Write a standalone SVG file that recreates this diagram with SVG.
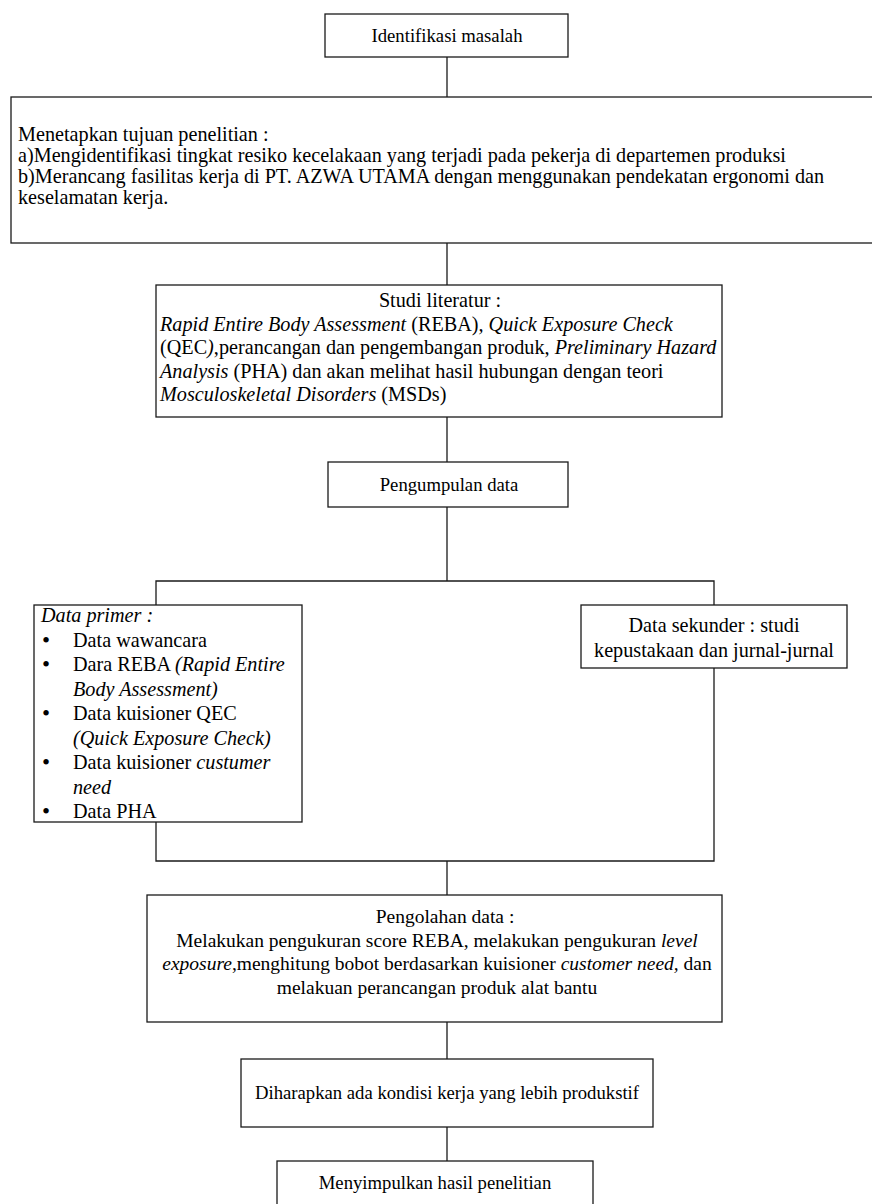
<svg xmlns="http://www.w3.org/2000/svg" width="872" height="1204" viewBox="0 0 872 1204">
<style>
  .box{fill:#ffffff;stroke:#1a1a1a;stroke-width:1.3}
  .con{stroke:#1a1a1a;stroke-width:1.3;fill:none}
  text{font-family:"Liberation Serif","Times New Roman",serif;fill:#000}
  .t12{font-size:20.2px}
  .t11{font-size:18.7px}
  .t115{font-size:19.5px}
  .b{font-size:23px}
  .c{text-anchor:middle}
  .i{font-style:italic}
</style>
<rect width="872" height="1204" fill="#ffffff"/>
<g id="connectors">
  <line class="con" x1="447" y1="57" x2="447" y2="97"/>
  <line class="con" x1="447" y1="243" x2="447" y2="285"/>
  <line class="con" x1="447" y1="417" x2="447" y2="462"/>
  <line class="con" x1="447" y1="507" x2="447" y2="581"/>
  <polyline class="con" points="156,605 156,581 714,581 714,605"/>
  <polyline class="con" points="156,822 156,861 714,861 714,668"/>
  <line class="con" x1="447" y1="861" x2="447" y2="895"/>
  <line class="con" x1="447" y1="1022" x2="447" y2="1059"/>
  <line class="con" x1="447" y1="1127" x2="447" y2="1161"/>
</g>
<g id="identifikasi">
  <rect class="box" x="325" y="14" width="243" height="43"/>
  <text class="t11 c" x="447" y="42">Identifikasi masalah</text>
</g>
<g id="tujuan">
  <rect class="box" x="11" y="97" width="875" height="146"/>
  <text class="t12" x="18" y="141">Menetapkan tujuan penelitian :</text>
  <text class="t12" x="18" y="162">a)Mengidentifikasi tingkat resiko kecelakaan yang terjadi pada pekerja di departemen produksi</text>
  <text class="t12" x="18" y="183">b)Merancang fasilitas kerja di PT. AZWA UTAMA dengan menggunakan pendekatan ergonomi dan</text>
  <text class="t12" x="18" y="204">keselamatan kerja.</text>
</g>
<g id="studi">
  <rect class="box" x="156" y="285" width="566" height="132"/>
  <text class="t12 c" x="440" y="307">Studi literatur :</text>
  <text class="t12" x="160" y="330.5"><tspan class="i">Rapid Entire Body Assessment</tspan> (REBA)<tspan class="i">,</tspan> <tspan class="i">Quick Exposure Check</tspan></text>
  <text class="t12" x="160" y="354">(QEC<tspan class="i">)</tspan>,perancangan dan pengembangan produk, <tspan class="i">Preliminary Hazard</tspan></text>
  <text class="t12" x="160" y="377.5"><tspan class="i">Analysis</tspan> (PHA) dan akan melihat hasil hubungan dengan teori</text>
  <text class="t12" x="160" y="401"><tspan class="i">Mosculoskeletal Disorders</tspan> (MSDs)</text>
</g>
<g id="pengumpulan">
  <rect class="box" x="328" y="462" width="240" height="45"/>
  <text class="t11 c" x="449" y="491">Pengumpulan data</text>
</g>
<g id="primer">
  <rect class="box" x="34" y="605" width="268" height="217"/>
  <text class="t12 i" x="41" y="622">Data primer :</text>
  <text class="b" x="42" y="647.5">•</text>
  <text class="t12" x="73" y="646.5">Data wawancara</text>
  <text class="b" x="42" y="672">•</text>
  <text class="t12" x="73" y="671">Dara REBA <tspan class="i">(Rapid Entire</tspan></text>
  <text class="t12 i" x="73" y="695.5">Body Assessment)</text>
  <text class="b" x="42" y="721">•</text>
  <text class="t12" x="73" y="720">Data kuisioner QEC</text>
  <text class="t12 i" x="73" y="744.5">(Quick Exposure Check)</text>
  <text class="b" x="42" y="770">•</text>
  <text class="t12" x="73" y="769">Data kuisioner <tspan class="i">custumer</tspan></text>
  <text class="t12 i" x="73" y="793.5">need</text>
  <text class="b" x="42" y="819">•</text>
  <text class="t12" x="73" y="818">Data PHA</text>
</g>
<g id="sekunder">
  <rect class="box" x="581" y="605" width="266" height="63"/>
  <text class="t12 c" x="714" y="632">Data sekunder : studi</text>
  <text class="t12 c" x="714" y="657">kepustakaan dan jurnal-jurnal</text>
</g>
<g id="pengolahan">
  <rect class="box" x="147" y="895" width="575" height="127"/>
  <text class="t115 c" x="445" y="923">Pengolahan data :</text>
  <text class="t115 c" x="437" y="946.5">Melakukan pengukuran score REBA, melakukan pengukuran <tspan class="i">level</tspan></text>
  <text class="t115 c" x="437" y="970"><tspan class="i">exposure</tspan>,menghitung bobot berdasarkan kuisioner <tspan class="i">customer need,</tspan> dan</text>
  <text class="t115 c" x="437" y="993.5">melakuan perancangan produk alat bantu</text>
</g>
<g id="diharapkan">
  <rect class="box" x="241" y="1059" width="412" height="68"/>
  <text class="t11 c" x="447" y="1099">Diharapkan ada kondisi kerja yang lebih produkstif</text>
</g>
<g id="menyimpulkan">
  <rect class="box" x="277" y="1161" width="316" height="60"/>
  <text class="t11 c" x="435" y="1189">Menyimpulkan hasil penelitian</text>
</g>
</svg>
